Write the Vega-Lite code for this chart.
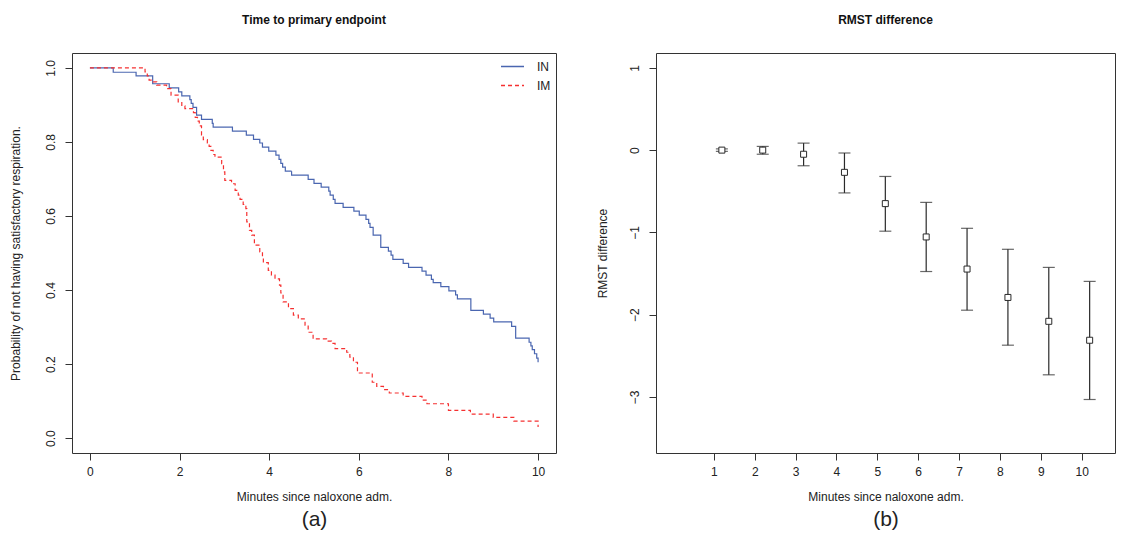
{
  "$schema": "https://vega.github.io/schema/vega-lite/v6.json",
  "background": "white",
  "padding": {"left": 8, "top": 13, "right": 5, "bottom": 0},
  "config": {
    "font": "Liberation Sans",
    "view": {"stroke": "#333", "strokeWidth": 1},
    "axis": {"domain": false, "grid": false, "tickSize": 7, "tickColor": "#333", "tickWidth": 1,
      "labelFont": "Liberation Sans", "labelFontSize": 12, "labelColor": "#222",
      "titleFont": "Liberation Sans", "titleFontSize": 12, "titleFontWeight": "normal", "titleColor": "#222"},
    "axisX": {"labelPadding": 6, "titlePadding": 14, "labelAngle": 0},
    "axisY": {"labelPadding": 8, "titlePadding": 19, "labelAngle": -90},
    "legend": {"orient": "none", "legendX": 428, "legendY": 1, "labelFontSize": 12, "labelFont": "Liberation Sans", "labelColor": "#222",
      "symbolType": "stroke", "symbolSize": 529, "symbolStrokeWidth": 1.3, "symbolOpacity": 1, "rowPadding": -9, "labelOffset": 12, "padding": 0, "title": null},
    "title": {"font": "Liberation Sans", "fontSize": 12, "fontWeight": "bold", "color": "#111", "frame": "group", "anchor": "middle", "offset": 26}
  },
  "spacing": 38,
  "hconcat": [
    {
      "width": 484, "height": 400,
      "title": {"text": "Time to primary endpoint"},
      "data": {"values": [
        {"group":"IN","t":0,"s":1.0},{"group":"IN","t":0.52,"s":0.988},{"group":"IN","t":1.03,"s":0.978},{"group":"IN","t":1.40,"s":0.957},
        {"group":"IN","t":1.77,"s":0.946},{"group":"IN","t":1.98,"s":0.935},{"group":"IN","t":2.05,"s":0.924},{"group":"IN","t":2.23,"s":0.914},
        {"group":"IN","t":2.26,"s":0.904},{"group":"IN","t":2.30,"s":0.893},{"group":"IN","t":2.38,"s":0.872},{"group":"IN","t":2.49,"s":0.861},
        {"group":"IN","t":2.73,"s":0.850},{"group":"IN","t":2.75,"s":0.840},{"group":"IN","t":3.18,"s":0.829},{"group":"IN","t":3.49,"s":0.818},
        {"group":"IN","t":3.65,"s":0.807},{"group":"IN","t":3.79,"s":0.797},{"group":"IN","t":3.85,"s":0.786},{"group":"IN","t":3.99,"s":0.775},
        {"group":"IN","t":4.15,"s":0.764},{"group":"IN","t":4.22,"s":0.753},{"group":"IN","t":4.26,"s":0.742},{"group":"IN","t":4.30,"s":0.732},
        {"group":"IN","t":4.36,"s":0.721},{"group":"IN","t":4.50,"s":0.710},{"group":"IN","t":4.87,"s":0.699},{"group":"IN","t":5.00,"s":0.688},
        {"group":"IN","t":5.16,"s":0.678},{"group":"IN","t":5.33,"s":0.667},{"group":"IN","t":5.36,"s":0.656},{"group":"IN","t":5.43,"s":0.645},
        {"group":"IN","t":5.47,"s":0.634},{"group":"IN","t":5.65,"s":0.623},{"group":"IN","t":5.89,"s":0.613},{"group":"IN","t":6.01,"s":0.602},
        {"group":"IN","t":6.16,"s":0.591},{"group":"IN","t":6.22,"s":0.580},{"group":"IN","t":6.25,"s":0.569},{"group":"IN","t":6.32,"s":0.548},
        {"group":"IN","t":6.49,"s":0.515},{"group":"IN","t":6.66,"s":0.505},{"group":"IN","t":6.72,"s":0.494},{"group":"IN","t":6.76,"s":0.483},
        {"group":"IN","t":6.99,"s":0.472},{"group":"IN","t":7.11,"s":0.461},{"group":"IN","t":7.41,"s":0.451},{"group":"IN","t":7.50,"s":0.440},
        {"group":"IN","t":7.62,"s":0.429},{"group":"IN","t":7.66,"s":0.420},{"group":"IN","t":7.83,"s":0.409},{"group":"IN","t":8.01,"s":0.398},
        {"group":"IN","t":8.16,"s":0.387},{"group":"IN","t":8.20,"s":0.376},{"group":"IN","t":8.50,"s":0.345},{"group":"IN","t":8.78,"s":0.335},
        {"group":"IN","t":8.93,"s":0.324},{"group":"IN","t":9.01,"s":0.314},{"group":"IN","t":9.41,"s":0.302},{"group":"IN","t":9.50,"s":0.270},
        {"group":"IN","t":9.80,"s":0.259},{"group":"IN","t":9.84,"s":0.249},{"group":"IN","t":9.87,"s":0.239},{"group":"IN","t":9.92,"s":0.228},
        {"group":"IN","t":9.97,"s":0.216},{"group":"IN","t":10.0,"s":0.205},
        {"group":"IM","t":0,"s":1.0},{"group":"IM","t":1.23,"s":0.989},{"group":"IM","t":1.28,"s":0.978},{"group":"IM","t":1.32,"s":0.967},
        {"group":"IM","t":1.41,"s":0.962},{"group":"IM","t":1.49,"s":0.953},{"group":"IM","t":1.71,"s":0.944},{"group":"IM","t":1.81,"s":0.926},
        {"group":"IM","t":1.97,"s":0.908},{"group":"IM","t":2.05,"s":0.897},{"group":"IM","t":2.12,"s":0.890},{"group":"IM","t":2.31,"s":0.879},
        {"group":"IM","t":2.35,"s":0.866},{"group":"IM","t":2.40,"s":0.856},{"group":"IM","t":2.44,"s":0.843},{"group":"IM","t":2.49,"s":0.818},
        {"group":"IM","t":2.53,"s":0.806},{"group":"IM","t":2.62,"s":0.797},{"group":"IM","t":2.66,"s":0.788},{"group":"IM","t":2.70,"s":0.777},
        {"group":"IM","t":2.75,"s":0.766},{"group":"IM","t":2.79,"s":0.759},{"group":"IM","t":2.94,"s":0.741},{"group":"IM","t":2.98,"s":0.719},
        {"group":"IM","t":3.01,"s":0.696},{"group":"IM","t":3.16,"s":0.687},{"group":"IM","t":3.24,"s":0.669},{"group":"IM","t":3.31,"s":0.656},
        {"group":"IM","t":3.35,"s":0.645},{"group":"IM","t":3.42,"s":0.631},{"group":"IM","t":3.48,"s":0.620},{"group":"IM","t":3.50,"s":0.584},
        {"group":"IM","t":3.56,"s":0.561},{"group":"IM","t":3.61,"s":0.548},{"group":"IM","t":3.67,"s":0.521},{"group":"IM","t":3.79,"s":0.503},
        {"group":"IM","t":3.85,"s":0.489},{"group":"IM","t":3.87,"s":0.474},{"group":"IM","t":3.98,"s":0.453},{"group":"IM","t":4.05,"s":0.440},
        {"group":"IM","t":4.13,"s":0.430},{"group":"IM","t":4.23,"s":0.413},{"group":"IM","t":4.26,"s":0.392},{"group":"IM","t":4.31,"s":0.368},
        {"group":"IM","t":4.43,"s":0.350},{"group":"IM","t":4.54,"s":0.332},{"group":"IM","t":4.65,"s":0.322},{"group":"IM","t":4.80,"s":0.305},
        {"group":"IM","t":4.87,"s":0.286},{"group":"IM","t":4.98,"s":0.268},{"group":"IM","t":5.28,"s":0.262},{"group":"IM","t":5.39,"s":0.256},
        {"group":"IM","t":5.47,"s":0.242},{"group":"IM","t":5.73,"s":0.232},{"group":"IM","t":5.80,"s":0.219},{"group":"IM","t":5.88,"s":0.205},
        {"group":"IM","t":5.97,"s":0.176},{"group":"IM","t":6.30,"s":0.151},{"group":"IM","t":6.40,"s":0.140},{"group":"IM","t":6.55,"s":0.131},
        {"group":"IM","t":6.68,"s":0.122},{"group":"IM","t":6.99,"s":0.113},{"group":"IM","t":7.41,"s":0.103},{"group":"IM","t":7.52,"s":0.093},
        {"group":"IM","t":8.00,"s":0.075},{"group":"IM","t":8.49,"s":0.065},{"group":"IM","t":9.00,"s":0.056},{"group":"IM","t":9.46,"s":0.046},
        {"group":"IM","t":10.0,"s":0.030}
      ]},
      "resolve": {"axis": {"x": "independent"}},
      "layer": [
        {
          "mark": {"type": "line", "interpolate": "step-after", "strokeWidth": 1.2},
          "encoding": {
            "x": {"field": "t", "type": "quantitative", "scale": {"domain": [-0.4, 10.4], "nice": false, "zero": false},
              "axis": {"orient": "bottom", "values": [0, 2, 4, 6, 8, 10], "title": "Minutes since naloxone adm."}},
            "y": {"field": "s", "type": "quantitative", "scale": {"domain": [-0.04, 1.04], "nice": false, "zero": false},
              "axis": {"values": [0, 0.2, 0.4, 0.6, 0.8, 1.0], "format": ".1f", "title": "Probability of not having satisfactory respiration.", "titlePadding": 22}},
            "color": {"field": "group", "type": "nominal", "scale": {"domain": ["IN", "IM"], "range": ["#4a66b0", "#f53030"]}},
            "strokeDash": {"field": "group", "type": "nominal", "scale": {"domain": ["IN", "IM"], "range": [[1, 0], [4, 3]]}}
          }
        },
        {
          "mark": {"type": "point", "opacity": 0},
          "encoding": {
            "x": {"field": "t", "type": "quantitative",
              "axis": {"orient": "bottom", "title": "(a)", "labels": false, "ticks": false, "domain": false, "titleFontSize": 21, "titlePadding": 55}},
            "y": {"field": "s", "type": "quantitative"}
          }
        }
      ]
    },
    {
      "width": 459, "height": 400,
      "title": {"text": "RMST difference"},
      "data": {"values": [
        {"t":1,"est":0.0,"lo":-0.015,"hi":0.015},
        {"t":2,"est":0.0,"lo":-0.05,"hi":0.045},
        {"t":3,"est":-0.05,"lo":-0.19,"hi":0.085},
        {"t":4,"est":-0.27,"lo":-0.52,"hi":-0.035},
        {"t":5,"est":-0.65,"lo":-0.985,"hi":-0.32},
        {"t":6,"est":-1.055,"lo":-1.475,"hi":-0.635},
        {"t":7,"est":-1.445,"lo":-1.945,"hi":-0.95},
        {"t":8,"est":-1.79,"lo":-2.37,"hi":-1.205},
        {"t":9,"est":-2.08,"lo":-2.73,"hi":-1.425},
        {"t":10,"est":-2.31,"lo":-3.03,"hi":-1.595}
      ]},
      "resolve": {"axis": {"x": "independent"}},
      "layer": [
        {"mark": {"type": "rule", "color": "#2a2a2a", "strokeWidth": 1.2, "xOffset": 8},
         "encoding": {
           "x": {"field": "t", "type": "quantitative", "scale": {"domain": [-0.416, 10.816], "nice": false, "zero": false},
             "axis": {"orient": "bottom", "values": [1, 2, 3, 4, 5, 6, 7, 8, 9, 10], "title": "Minutes since naloxone adm."}},
           "y": {"field": "lo", "type": "quantitative", "scale": {"domain": [-3.68, 1.18], "nice": false, "zero": false},
             "axis": {"values": [-3, -2, -1, 0, 1], "format": "d", "title": "RMST difference"}},
           "y2": {"field": "hi"}}},
        {"mark": {"type": "tick", "orient": "horizontal", "size": 12, "thickness": 1.2, "color": "#2a2a2a", "xOffset": 8},
         "encoding": {"x": {"field": "t", "type": "quantitative", "axis": null}, "y": {"field": "lo", "type": "quantitative"}}},
        {"mark": {"type": "tick", "orient": "horizontal", "size": 12, "thickness": 1.2, "color": "#2a2a2a", "xOffset": 8},
         "encoding": {"x": {"field": "t", "type": "quantitative", "axis": null}, "y": {"field": "hi", "type": "quantitative"}}},
        {"mark": {"type": "point", "shape": "square", "size": 36, "filled": true, "fill": "white", "stroke": "#2a2a2a", "strokeWidth": 1, "opacity": 1, "xOffset": 8},
         "encoding": {"x": {"field": "t", "type": "quantitative", "axis": null}, "y": {"field": "est", "type": "quantitative"}}},
        {"mark": {"type": "point", "opacity": 0},
         "encoding": {"x": {"field": "t", "type": "quantitative",
              "axis": {"orient": "bottom", "title": "(b)", "labels": false, "ticks": false, "domain": false, "titleFontSize": 21, "titlePadding": 55}},
           "y": {"field": "est", "type": "quantitative"}}}
      ]
    }
  ]
}
